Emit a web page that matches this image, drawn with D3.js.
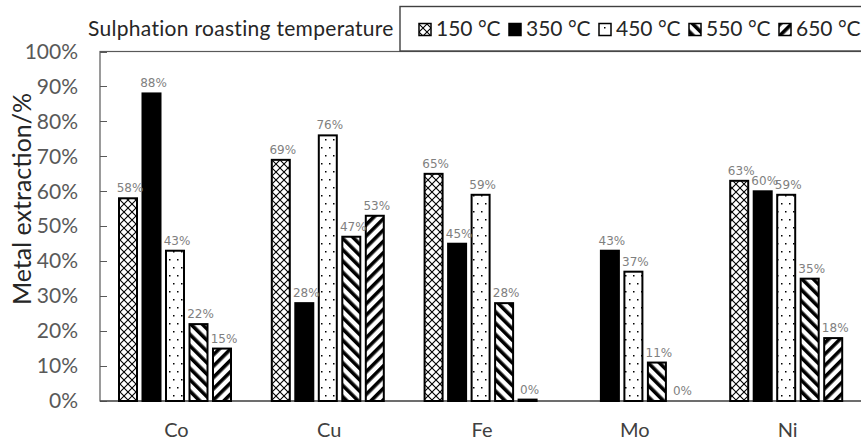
<!DOCTYPE html>
<meta charset="utf-8">
<style>
    body {
        margin: 0;
        background-color: #ffffff;
    }

    svg {
        font-family: Lato, "Open Sans", sans-serif;
    }

    .axis path {
        display: none;
    }

    .axis line {
        stroke: #595959;
        shape-rendering: crispEdges;
    }
</style>
<body>
<script src="https://cdn.jsdelivr.net/npm/d3@7"></script>
<script>

    // metals on the x axis
    const metals = ['Co', 'Cu', 'Fe', 'Mo', 'Ni'];

    // roasting temperatures (one bar per metal each)
    const temps = ['150 °C', '350 °C', '450 °C', '550 °C', '650 °C'];

    // extraction fractions per temperature, in the order of metals (null = not measured)
    const t150 = [0.58, 0.69, 0.65, null, 0.63];
    const t350 = [0.88, 0.28, 0.45, 0.43, 0.60];
    const t450 = [0.43, 0.76, 0.59, 0.37, 0.59];
    const t550 = [0.22, 0.47, 0.28, 0.11, 0.35];
    const t650 = [0.15, 0.53, 0.004, 0, 0.18];

    const yTicks = [0, 0.1, 0.2, 0.3, 0.4, 0.5, 0.6, 0.7, 0.8, 0.9, 1.0];

    const series = [t150, t350, t450, t550, t650];
    const fills = ['url(#p150)', '#000', 'url(#p450)', 'url(#p550)', 'url(#p650)'];

    const width = 861;
    const height = 441;
    // plot area
    const plot = {left: 100, right: 864, top: 51.5, bottom: 401};

    const svg = d3.select('body')
        .append('svg')
        .attr('width', width)
        .attr('height', height);

    // fill patterns, rough copies of the excel ones
    const defs = svg.append('defs');

    const p150 = defs.append('pattern')
        .attr('id', 'p150')
        .attr('patternUnits', 'userSpaceOnUse')
        .attr('width', 8).attr('height', 8);
    p150.append('rect').attr('width', 8).attr('height', 8).attr('fill', '#fff');
    p150.append('path')
        .attr('d', 'M0,0L8,8M8,0L0,8')
        .attr('stroke', '#000')
        .attr('stroke-width', 1.1);

    const p450 = defs.append('pattern')
        .attr('id', 'p450')
        .attr('patternUnits', 'userSpaceOnUse')
        .attr('width', 8).attr('height', 16);
    p450.append('rect').attr('width', 8).attr('height', 16).attr('fill', '#fff');
    p450.append('rect').attr('x', 1).attr('y', 3).attr('width', 1.5).attr('height', 1.5).attr('fill', '#000');
    p450.append('rect').attr('x', 5).attr('y', 11).attr('width', 1.5).attr('height', 1.5).attr('fill', '#000');

    // "\" stripes and "/" stripes
    [['p550', -45], ['p650', 45]].forEach(d => {
        const p = defs.append('pattern')
            .attr('id', d[0])
            .attr('patternUnits', 'userSpaceOnUse')
            .attr('width', 8).attr('height', 8)
            .attr('patternTransform', 'rotate(' + d[1] + ')');
        p.append('rect').attr('width', 8).attr('height', 8).attr('fill', '#fff');
        p.append('rect').attr('width', 3.6).attr('height', 8).attr('fill', '#000');
    });

    // scales
    const x0 = d3.scaleBand()
        .domain(metals)
        .range([plot.left, plot.right]);

    const x1 = d3.scaleBand()
        .domain(temps)
        .range([19, 131])
        .paddingInner(0.234);

    const y = d3.scaleLinear()
        .domain([0, 1])
        .range([plot.bottom, plot.top]);

    // plot frame
    svg.append('rect')
        .attr('x', plot.left)
        .attr('y', plot.top)
        .attr('width', plot.right - plot.left)
        .attr('height', plot.bottom - plot.top)
        .attr('fill', 'none')
        .attr('stroke', '#595959')
        .attr('stroke-width', 1.2);

    // y axis, ticks point inwards
    svg.append('g')
        .attr('class', 'y axis')
        .attr('transform', 'translate(' + plot.left + ',0)')
        .call(d3.axisLeft(y)
            .tickValues(yTicks)
            .tickFormat(d3.format('.0%'))
            .tickSizeInner(-7)
            .tickSizeOuter(0)
            .tickPadding(22))
        .selectAll('text')
        .style('font-family', 'Lato, sans-serif')
        .style('font-size', '21px')
        .attr('fill', '#595959');

    // x axis line
    svg.append('line')
        .attr('x1', plot.left).attr('x2', plot.right)
        .attr('y1', plot.bottom).attr('y2', plot.bottom)
        .attr('stroke', '#404040')
        .attr('stroke-width', 1.2);

    // category labels
    svg.append('g')
        .selectAll('text')
        .data(metals)
        .enter().append('text')
        .attr('x', d => x0(d) + x0.bandwidth() / 2)
        .attr('y', 437)
        .attr('text-anchor', 'middle')
        .style('font-size', '20px')
        .attr('fill', '#404040')
        .text(d => d);

    // flatten into one list of bars
    const bars = [];
    series.forEach((vals, s) => {
        vals.forEach((v, m) => {
            if (v !== null) bars.push({metal: metals[m], temp: temps[s], s: s, value: v});
        });
    });

    const gBars = svg.append('g').attr('class', 'bars');

    gBars.selectAll('rect')
        .data(bars.filter(d => d.value > 0))
        .enter().append('rect')
        .attr('x', d => x0(d.metal) + x1(d.temp))
        .attr('y', d => y(d.value))
        .attr('width', x1.bandwidth())
        .attr('height', d => y(0) - y(d.value))
        .attr('fill', d => fills[d.s])
        .attr('stroke', '#000')
        .attr('stroke-width', 2);

    // value labels
    gBars.selectAll('text')
        .data(bars)
        .enter().append('text')
        .attr('x', d => x0(d.metal) + x1(d.temp) + x1.bandwidth() / 2 + 2)
        .attr('y', d => y(d.value) - 6)
        .attr('text-anchor', 'middle')
        .style('font-family', '"DejaVu Sans", sans-serif')
        .style('font-size', '12px')
        .attr('fill', '#7f7f7f')
        .text(d => Math.round(d.value * 100) + '%');

    // y axis title
    svg.append('text')
        .attr('transform', 'translate(31,' + 199 + ') rotate(-90)')
        .attr('text-anchor', 'middle')
        .style('font-size', '25px')
        .attr('fill', '#262626')
        .text('Metal extraction/%');

    // legend
    svg.append('text')
        .attr('x', 88)
        .attr('y', 36)
        .style('font-size', '21px')
        .style('letter-spacing', '0.3px')
        .attr('fill', '#262626')
        .text('Sulphation roasting temperature');

    svg.append('rect')
        .attr('x', 400)
        .attr('y', 6.5)
        .attr('width', 480)
        .attr('height', 44.5)
        .attr('fill', '#fff')
        .attr('stroke', '#404040')
        .attr('stroke-width', 1.4);

    const legend = svg.append('g')
        .attr('class', 'legend')
        .selectAll('g')
        .data(temps)
        .enter().append('g')
        .attr('transform', (d, i) => 'translate(' + (419 + i * 90) + ',0)');

    legend.append('rect')
        .attr('x', 0)
        .attr('y', 23.5)
        .attr('width', 12)
        .attr('height', 12)
        .attr('fill', (d, i) => fills[i])
        .attr('stroke', '#000')
        .attr('stroke-width', 1.5);

    legend.append('text')
        .attr('x', 17)
        .attr('y', 36)
        .style('font-size', '21px')
        .attr('fill', '#262626')
        .text(d => d);

</script>
</body>
